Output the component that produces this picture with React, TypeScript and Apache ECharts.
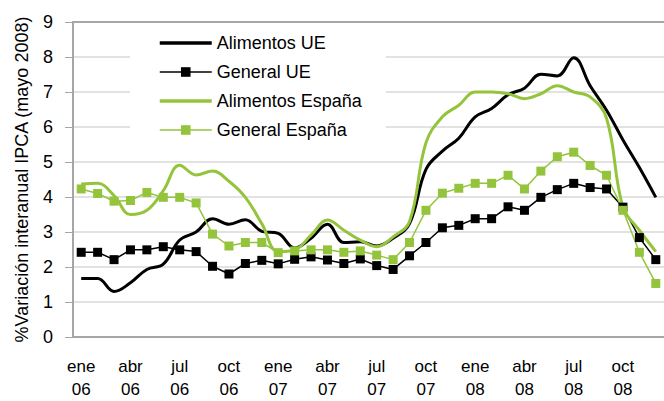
import React, { useEffect, useRef } from "react";
import * as echarts from "echarts";

const months = ["ene", "feb", "mar", "abr", "may", "jun", "jul", "ago", "sep", "oct", "nov", "dic"];
const years = ["06", "07", "08"];
const categories: string[] = [];
years.forEach((y) => months.forEach((m) => categories.push(m + "\n" + y)));

const alimentosUE = [1.67, 1.67, 1.3, 1.55, 1.93, 2.08, 2.77, 3.0, 3.38, 3.22, 3.35, 3.02, 2.96, 2.54, 2.82, 3.22, 2.7, 2.72, 2.6, 2.82, 3.24, 4.79, 5.31, 5.68, 6.29, 6.53, 6.92, 7.11, 7.51, 7.46, 7.98, 7.18, 6.48, 5.63, 4.84, 3.99];
const generalUE = [2.42, 2.42, 2.21, 2.49, 2.49, 2.58, 2.49, 2.44, 2.02, 1.8, 2.1, 2.19, 2.09, 2.22, 2.29, 2.2, 2.1, 2.23, 2.04, 1.93, 2.32, 2.7, 3.12, 3.19, 3.38, 3.38, 3.72, 3.62, 3.99, 4.21, 4.39, 4.27, 4.23, 3.71, 2.84, 2.21];
const alimentosES = [4.37, 4.39, 4.04, 3.5, 3.62, 4.18, 4.91, 4.63, 4.74, 4.45, 3.99, 3.24, 2.44, 2.49, 2.91, 3.34, 3.05, 2.77, 2.58, 2.86, 3.3, 5.55, 6.29, 6.62, 7.0, 7.0, 6.95, 6.81, 6.95, 7.18, 7.0, 6.86, 6.25, 3.71, 3.05, 2.44];
const generalES = [4.23, 4.1, 3.88, 3.9, 4.13, 3.99, 3.99, 3.83, 2.94, 2.6, 2.7, 2.7, 2.41, 2.46, 2.49, 2.49, 2.42, 2.46, 2.34, 2.21, 2.7, 3.62, 4.11, 4.25, 4.39, 4.39, 4.62, 4.23, 4.74, 5.15, 5.28, 4.9, 4.62, 3.62, 2.42, 1.53];

const FONT = "'Liberation Sans', Arial, sans-serif";
const GREEN = "#94C43C";
const AXIS = "#A6A6A6";

export default function App() {
  const ref = useRef<HTMLDivElement>(null);
  useEffect(() => {
    if (!ref.current) return;
    const chart = echarts.init(ref.current, undefined, { renderer: "svg" });
    chart.setOption({
      animation: false,
      textStyle: { fontFamily: FONT },
      grid: { left: 73, right: 0, top: 22, bottom: 59 },
      legend: {
        orient: "vertical",
        left: 130,
        top: 28,
        padding: [6, 24, 14, 28],
        backgroundColor: "#fff",
        itemWidth: 52,
        itemHeight: 12,
        itemGap: 11,
        textStyle: { fontSize: 18, color: "#000", fontFamily: FONT },
        data: [
          { name: "Alimentos UE", itemStyle: { opacity: 0 }, lineStyle: { width: 3.5 } },
          { name: "General UE", lineStyle: { width: 1.5 } },
          { name: "Alimentos España", itemStyle: { opacity: 0 }, lineStyle: { width: 3.5 } },
          { name: "General España", lineStyle: { width: 1.5 } },
        ],
      },
      xAxis: [
        {
          type: "category",
          data: categories,
          boundaryGap: true,
          axisLine: { lineStyle: { color: AXIS, width: 2 } },
          axisTick: { interval: 2, length: 6, lineStyle: { color: AXIS, width: 1 } },
          axisLabel: { interval: 2, fontSize: 17, color: "#000", lineHeight: 23, margin: 18, fontFamily: FONT },
          splitLine: { show: false },
        },
        {
          type: "category",
          position: "top",
          data: categories,
          axisLine: { lineStyle: { color: AXIS, width: 2 } },
          axisTick: { show: false },
          axisLabel: { show: false },
        },
      ],
      yAxis: {
        type: "value",
        min: 0,
        max: 9,
        interval: 1,
        name: "%Variación interanual IPCA (mayo 2008)",
        nameLocation: "middle",
        nameGap: 42,
        nameTextStyle: { fontSize: 18, color: "#000", fontFamily: FONT },
        axisLine: { show: true, lineStyle: { color: AXIS, width: 2 } },
        axisTick: { show: true, length: 8, lineStyle: { color: AXIS, width: 1 } },
        axisLabel: { fontSize: 18, color: "#000", margin: 20, fontFamily: FONT },
        splitLine: { lineStyle: { color: "#D9D9D9", width: 1.5 } },
      },
      series: [
        {
          name: "Alimentos UE",
          type: "line",
          data: alimentosUE,
          smooth: 0.4,
          symbol: "none",
          lineStyle: { color: "#000", width: 3 },
          itemStyle: { color: "#000" },
        },
        {
          name: "General UE",
          type: "line",
          data: generalUE,
          symbol: "rect",
          symbolSize: 9,
          lineStyle: { color: "#000", width: 1.5 },
          itemStyle: { color: "#000" },
        },
        {
          name: "Alimentos España",
          type: "line",
          data: alimentosES,
          smooth: 0.4,
          symbol: "none",
          lineStyle: { color: GREEN, width: 3 },
          itemStyle: { color: GREEN },
        },
        {
          name: "General España",
          type: "line",
          data: generalES,
          symbol: "rect",
          symbolSize: 9,
          lineStyle: { color: GREEN, width: 1.5 },
          itemStyle: { color: GREEN },
        },
      ],
    });
    return () => chart.dispose();
  }, []);
  return (
    <div
      ref={ref}
      style={{ position: "fixed", left: 0, top: 0, width: "664px", height: "401px", background: "#fff" }}
    />
  );
}
